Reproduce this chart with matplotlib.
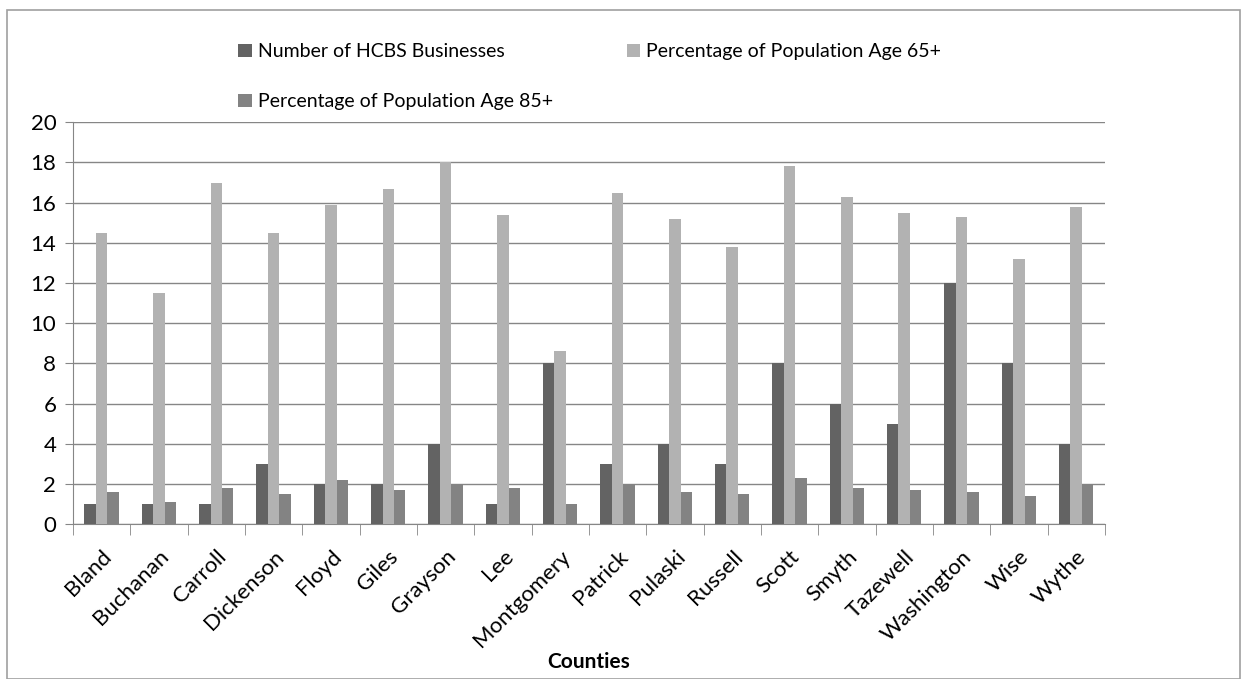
import matplotlib
matplotlib.use('agg')

import matplotlib.pyplot as plt
import numpy as np
from matplotlib.patches import Rectangle

counties = ['Bland', 'Buchanan', 'Carroll', 'Dickenson', 'Floyd', 'Giles', 'Grayson',
            'Lee', 'Montgomery', 'Patrick', 'Pulaski', 'Russell', 'Scott', 'Smyth',
            'Tazewell', 'Washington', 'Wise', 'Wythe']
hcbs = [1, 1, 1, 3, 2, 2, 4, 1, 8, 3, 4, 3, 8, 6, 5, 12, 8, 4]
pct_65 = [14.5, 11.5, 17.0, 14.5, 15.9, 16.7, 18.0, 15.4, 8.6, 16.5, 15.2, 13.8,
          17.8, 16.3, 15.5, 15.3, 13.2, 15.8]
pct_85 = [1.6, 1.1, 1.8, 1.5, 2.2, 1.7, 2.0, 1.8, 1.0, 2.0, 1.6, 1.5,
          2.3, 1.8, 1.7, 1.6, 1.4, 2.0]

plt.rcParams['font.family'] = ['Lato', 'DejaVu Sans']

fig = plt.figure(figsize=(12.47, 6.79), dpi=100)
ax = fig.add_axes([0.0585, 0.228, 0.8275, 0.592])

x = np.arange(len(counties))
w = 0.2
b1 = ax.bar(x - w, hcbs, w, color='#636363', label='Number of HCBS Businesses', zorder=3)
b2 = ax.bar(x, pct_65, w, color='#b2b2b2', label='Percentage of Population Age 65+', zorder=3)
b3 = ax.bar(x + w, pct_85, w, color='#838383', label='Percentage of Population Age 85+', zorder=3)

ax.set_xlim(-0.5, len(counties) - 0.5)
ax.set_ylim(0, 20)
ax.set_yticks(np.arange(0, 21, 2))
ax.yaxis.grid(True, color='#868686', linewidth=1)
ax.set_axisbelow(True)

ax.set_xticks(x)
ax.set_xticklabels(counties, rotation=45, ha='right', rotation_mode='anchor', fontsize=16)
ax.set_xticks(np.arange(-0.5, len(counties), 1), minor=True)
ax.tick_params(axis='x', which='major', length=0, pad=16)
ax.tick_params(axis='x', which='minor', length=8, color='#868686')
ax.tick_params(axis='y', length=6, color='#868686', labelsize=16, pad=6)

for s in ['top', 'right']:
    ax.spines[s].set_visible(False)
ax.spines['left'].set_color('#868686')
ax.spines['bottom'].set_color('#868686')

ax.set_xlabel('Counties', fontsize=15, fontweight='bold', labelpad=1)

leg = fig.legend([b1, b3, b2],
                 ['Number of HCBS Businesses', 'Percentage of Population Age 85+',
                  'Percentage of Population Age 65+'],
                 ncol=2, loc='upper left', bbox_to_anchor=(0.177, 0.962),
                 frameon=False, fontsize=14, handlelength=0.7, handleheight=0.7,
                 handletextpad=0.3, columnspacing=3.8, labelspacing=1.7)

fig.patches.append(Rectangle((0.006, 0.0), 0.988, 0.985, transform=fig.transFigure,
                             fill=False, edgecolor='#a0a0a0', linewidth=1.2))

fig.savefig('out.png', dpi=100)
